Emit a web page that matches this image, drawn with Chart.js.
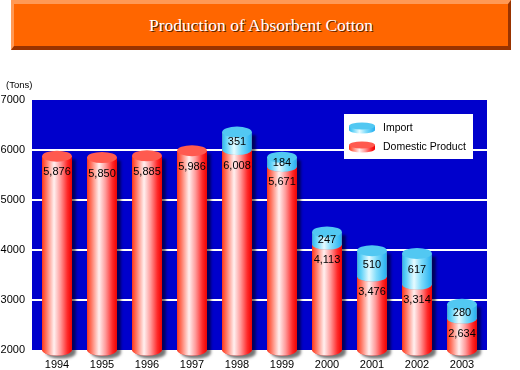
<!DOCTYPE html>
<html lang="en">
<head>
<meta charset="UTF-8">
<title>Production of Absorbent Cotton</title>
<script src="https://cdn.jsdelivr.net/npm/chart.js"></script>
<style>
  body { margin: 0; background: #fff; }
  #wrap { position: relative; width: 520px; height: 370px; }
  #title {
    position: absolute; left: 11px; top: 0; width: 500px; height: 50px;
    box-sizing: border-box; background: #ff6600;
    border-top: 4px solid #ff9955; border-left: 3px solid #ff9955;
    border-bottom: 4px solid #993300; border-right: 3px solid #993300;
    color: #fff; font: 17.5px "Liberation Serif", serif; text-align: center;
    line-height: 42px; text-shadow: 1px 1px 0 #5a2000;
  }
  #unit { position: absolute; left: 6px; top: 79px; font: 9.5px "Liberation Sans", sans-serif; color: #000; }
  canvas { position: absolute; left: 0; top: 0; }
</style>
</head>
<body>
<div id="wrap">
  <canvas id="chart" width="520" height="370"></canvas>
  <div id="title">Production of Absorbent Cotton</div>
  <div id="unit">(Tons)</div>
</div>

<script>
// data
const years = ['1994', '1995', '1996', '1997', '1998', '1999', '2000', '2001', '2002', '2003'];
const domestic = [5876, 5850, 5885, 5986, 6008, 5671, 4113, 3476, 3314, 2634];
const imported = [null, null, null, null, 351, 184, 247, 510, 617, 280];
const yTicks = [2000, 3000, 4000, 5000, 6000, 7000];

const RY = 5.5;
const EDGE = 2.5; // blue panel reaches a little past the category band

function redGrad(ctx, l, r) {
  const g = ctx.createLinearGradient(l, 0, r, 0);
  g.addColorStop(0, '#ff3a1a');
  g.addColorStop(0.15, '#ff7a68');
  g.addColorStop(0.4, '#fff0f0');
  g.addColorStop(0.62, '#ff9a9a');
  g.addColorStop(0.85, '#ff2a2a');
  g.addColorStop(1, '#f00000');
  return g;
}
function cyanGrad(ctx, l, r) {
  const g = ctx.createLinearGradient(l, 0, r, 0);
  g.addColorStop(0, '#2fb8ee');
  g.addColorStop(0.15, '#66d4f8');
  g.addColorStop(0.4, '#e6fbff');
  g.addColorStop(0.65, '#7fdcfa');
  g.addColorStop(1, '#22aef0');
  return g;
}

function cylPath(ctx, x, hw, yTop, yBot, ry) {
  ctx.beginPath();
  ctx.moveTo(x - hw, yTop);
  ctx.lineTo(x - hw, yBot);
  ctx.ellipse(x, yBot, hw, ry, 0, Math.PI, 0, true);
  ctx.lineTo(x + hw, yTop);
  ctx.closePath();
}

function segment(ctx, x, hw, yTop, yBot, ry, grad, topColor) {
  cylPath(ctx, x, hw, yTop, yBot, ry);
  ctx.fillStyle = grad;
  ctx.fill();
  ctx.beginPath();
  ctx.ellipse(x, yTop, hw, ry, 0, 0, Math.PI * 2);
  ctx.fillStyle = topColor;
  ctx.fill();
}

const cylinders = {
  id: 'cylinders',
  beforeDatasetsDraw(chart) {
    const ctx = chart.ctx, a = chart.chartArea, y = chart.scales.y;
    const left = a.left - EDGE, w = a.right - a.left + EDGE * 2;
    // plot background and grid
    ctx.save();
    ctx.fillStyle = '#0000cc';
    ctx.fillRect(left, a.top, w, a.bottom - a.top);
    ctx.fillStyle = '#ffffff';
    yTicks.forEach(v => {
      if (v <= y.min || v >= y.max) return;
      const py = Math.round(y.getPixelForValue(v));
      ctx.fillRect(left, py - 1, w, 2);
    });
    ctx.restore();

    const dMeta = chart.getDatasetMeta(0), iMeta = chart.getDatasetMeta(1);
    ctx.save();
    dMeta.data.forEach((bar, i) => {
      const hw = bar.width / 2, x = bar.x;
      const bot = Math.min(bar.base, a.bottom);
      const dTop = bar.y;
      const ib = iMeta.data[i];
      const tTop = imported[i] != null ? ib.y : dTop;
      // drop shadow of whole cylinder
      ctx.save();
      ctx.shadowColor = 'rgba(0,0,0,0.55)';
      ctx.shadowOffsetX = 4;
      ctx.shadowOffsetY = 3;
      ctx.shadowBlur = 3;
      cylPath(ctx, x, hw, tTop, bot, RY);
      ctx.fillStyle = '#ff2a2a';
      ctx.fill();
      ctx.restore();

      segment(ctx, x, hw, dTop, bot, RY, redGrad(ctx, x - hw, x + hw), '#ff5a4f');
      if (imported[i] != null) {
        segment(ctx, x, hw, tTop, dTop, RY, cyanGrad(ctx, x - hw, x + hw), '#52c8f2');
      }
    });
    ctx.restore();
    return false;
  },
  afterDraw(chart) {
    const ctx = chart.ctx;
    const dMeta = chart.getDatasetMeta(0), iMeta = chart.getDatasetMeta(1);
    ctx.save();
    ctx.fillStyle = '#000';
    ctx.font = '11px "Liberation Sans", Arial, sans-serif';
    ctx.textAlign = 'center';
    ctx.textBaseline = 'middle';
    dMeta.data.forEach((bar, i) => {
      ctx.fillText(domestic[i].toLocaleString('en-US'), bar.x, bar.y + 16);
      if (imported[i] != null) {
        const ib = iMeta.data[i];
        ctx.fillText(imported[i].toLocaleString('en-US'), ib.x, (ib.y + ib.base) / 2 + 1.5);
      }
    });

    // legend box
    const lx = 344, ly = 114;
    ctx.fillStyle = '#fff';
    ctx.fillRect(lx, ly, 129, 45);
    const items = [
      { label: chart.data.datasets[1].label, grad: cyanGrad, top: '#52c8f2', y: ly + 14 },
      { label: chart.data.datasets[0].label, grad: redGrad, top: '#ff5a4f', y: ly + 33 }
    ];
    items.forEach(it => {
      const cx = lx + 18, hw = 13;
      segment(ctx, cx, hw, it.y - 2, it.y + 2, 3.5, it.grad(ctx, cx - hw, cx + hw), it.top);
      ctx.fillStyle = '#000';
      ctx.textAlign = 'left';
      ctx.font = '10.5px "Liberation Sans", Arial, sans-serif';
      ctx.fillText(it.label, lx + 39, it.y);
    });
    ctx.restore();
  }
};

new Chart(document.getElementById('chart'), {
  type: 'bar',
  data: {
    labels: years,
    datasets: [
      { label: 'Domestic Product', data: domestic, backgroundColor: '#ff2a2a' },
      { label: 'Import', data: imported, backgroundColor: '#52c8f2' }
    ]
  },
  options: {
    responsive: false,
    animation: false,
    layout: { padding: { top: 100, right: 35.5, bottom: 0, left: 0 } },
    datasets: { bar: { barPercentage: 0.66, categoryPercentage: 1 } },
    plugins: { legend: { display: false }, tooltip: { enabled: false } },
    scales: {
      x: {
        stacked: true,
        grid: { display: false, drawTicks: false },
        border: { display: false },
        ticks: { color: '#000', padding: 8, font: { family: '"Liberation Sans", Arial, sans-serif', size: 11 } },
        afterFit(s) { s.height = 20; }
      },
      y: {
        stacked: true,
        min: 2000,
        max: 7000,
        grid: { display: false, drawTicks: false },
        border: { display: false },
        ticks: {
          stepSize: 1000, color: '#000', padding: 9.5,
          font: { family: '"Liberation Sans", Arial, sans-serif', size: 11 },
          callback: v => String(v)
        },
        afterFit(s) { s.width = 34.5; }
      }
    }
  },
  plugins: [cylinders]
});
</script>
</body>
</html>
